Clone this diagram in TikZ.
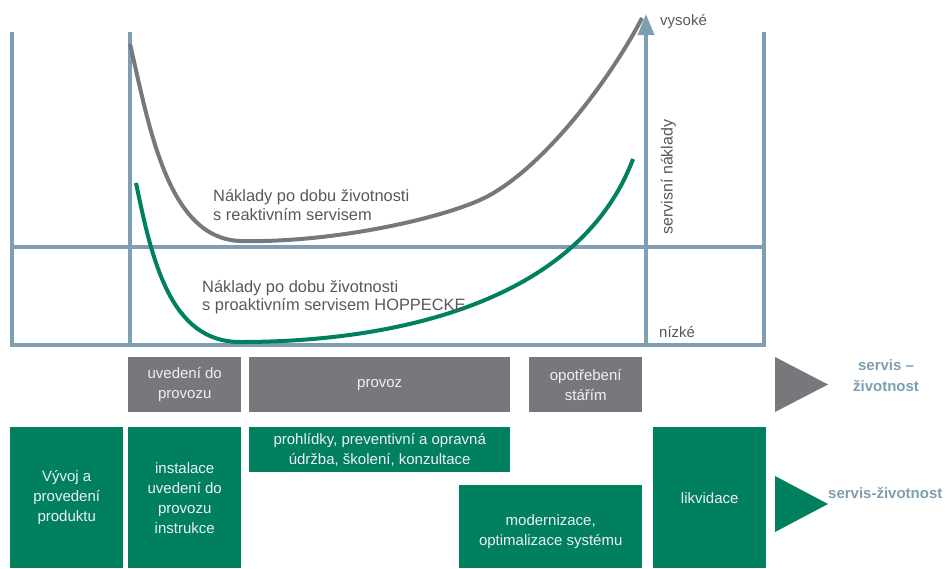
\documentclass[tikz,border=0pt]{standalone}
\usepackage{fontspec}
\setmainfont{Liberation Sans}
\usepackage{tikz}
\usetikzlibrary{arrows.meta}
\definecolor{gridColor}{RGB}{126,158,180}
\definecolor{phaseGray}{RGB}{119,120,124}
\definecolor{serviceGreen}{RGB}{0,128,94}
\definecolor{labelGray}{RGB}{88,88,90}
\definecolor{boxText}{RGB}{238,241,240}
\tikzstyle{diagram} = [x = 1pt, y = -1pt]
\tikzstyle{gridLine} = [color=gridColor, line width=3.5pt]
\tikzstyle{costCurve} = [line width=4pt]
\tikzstyle{boxStyle} = [inner sep=0pt, align=center, text=boxText, font=\fontsize{15}{20}\selectfont]
\tikzstyle{labelText} = [text=labelGray, inner sep=0pt]
\tikzstyle{legendText} = [text=gridColor, inner sep=0pt, align=center, font=\bfseries\fontsize{15}{21}\selectfont]
\newcommand{\phaseBox}[7]{\node [boxStyle, fill=#1, anchor=north west, minimum width=#4 - #2, minimum height=#5 - #3] (#6) at (#2, #3) {#7};}
\newcommand{\lifeArrow}[3]{\fill [#1] (775, #2) -- (828, #2 / 2 + #3 / 2) -- (775, #3) -- cycle;}

\begin{document}
\begin{tikzpicture}[diagram]
        \useasboundingbox (0,0) rectangle (947,568);

        \foreach \xLine in {12, 130, 764} {
          \draw [gridLine] (\xLine, 32) -- (\xLine, 347);
        }
        \foreach \yLine in {247, 345} {
          \draw [gridLine] (12, \yLine) -- (764, \yLine);
        }
        \draw [gridLine, -{Triangle[length=21pt, width=16pt]}] (646, 347) -- (646, 14);

        \draw [costCurve, color=phaseGray] (130,44) .. controls (150,130) and (168,238) .. (240,241)
          .. controls (330,243) and (435,220) .. (480,200)
          .. controls (540,173) and (610,80) .. (642,18);
        \draw [costCurve, color=serviceGreen] (136,183) .. controls (152,260) and (170,342) .. (240,342)
          .. controls (400,342) and (580,300) .. (633,159);

        \node [labelText, anchor=west, align=left, font=\fontsize{16.4}{18.5}\selectfont] (reactiveLabel) at (213, 205) {Náklady po dobu životnosti\\s reaktivním servisem};
        \node [labelText, anchor=west, align=left, font=\fontsize{16.4}{18.5}\selectfont] (proactiveLabel) at (202, 297) {Náklady po dobu životnosti\\s proaktivním servisem HOPPECKE};
        \node [labelText, anchor=base west, font=\fontsize{15}{18}\selectfont] (highLabel) at (660, 25) {vysoké};
        \node [labelText, anchor=base west, font=\fontsize{15}{18}\selectfont] (lowLabel) at (659, 337) {nízké};
        \node [labelText, rotate=90, font=\fontsize{16}{18}\selectfont] (costAxisLabel) at (668.5, 177) {servisní náklady};

        \phaseBox{phaseGray}{128}{357}{241}{412}{launchPhase}{uvedení do\\provozu}
        \phaseBox{phaseGray}{249}{357}{510}{412}{operationPhase}{provoz}
        \phaseBox{phaseGray}{529}{357}{642}{412}{agingPhase}{opotřebení\\stářím}

        \phaseBox{serviceGreen}{10}{427}{123}{568}{developmentBox}{Vývoj a\\provedení\\produktu}
        \phaseBox{serviceGreen}{128}{427}{241}{568}{installationBox}{instalace\\uvedení do\\provozu\\instrukce}
        \phaseBox{serviceGreen}{249}{427}{510}{472}{maintenanceBox}{prohlídky, preventivní a opravná\\údržba, školení, konzultace}
        \phaseBox{serviceGreen}{459}{485}{642}{568}{modernizationBox}{\\modernizace,\\optimalizace systému}
        \phaseBox{serviceGreen}{653}{427}{766}{568}{disposalBox}{likvidace}

        \lifeArrow{phaseGray}{357}{412}
        \lifeArrow{serviceGreen}{476}{532}
        \node [legendText] (grayLegend) at (886, 376) {servis –\\životnost};
        \node [legendText, anchor=west] (greenLegend) at (828, 493) {servis-životnost};
      \end{tikzpicture}
\end{document}
